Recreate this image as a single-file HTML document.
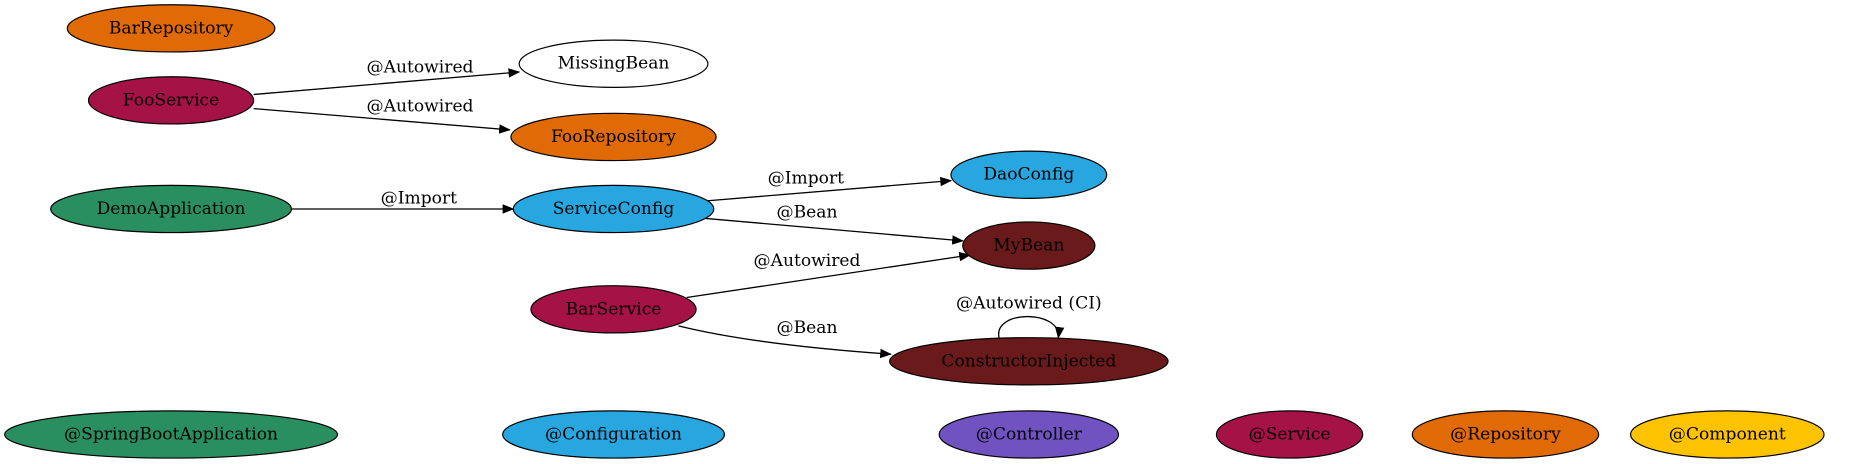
<!DOCTYPE html>
<html><head><meta charset="utf-8"><style>
html,body{margin:0;padding:0;background:#fff;}
svg{display:block;}
text{font-family:"DejaVu Serif","Liberation Serif",serif;font-size:14.5px;text-anchor:middle;dominant-baseline:central;fill:#000;}
</style></head><body>
<svg width="1850" height="464" viewBox="0 0 1568 393" preserveAspectRatio="none" xmlns="http://www.w3.org/2000/svg">
<defs><marker id="a" markerWidth="10" markerHeight="8" refX="9" refY="4" orient="auto" markerUnits="userSpaceOnUse"><path d="M0,0 L10,4 L0,8 z" fill="#000"/></marker></defs>
<g stroke="#000" stroke-width="1.1" fill="none">
<path d="M215,80 L440,61" marker-end="url(#a)"/>
<path d="M215,92 L432,110" marker-end="url(#a)"/>
<path d="M247,177 L435,177" marker-end="url(#a)"/>
<path d="M600,170 L806,153" marker-end="url(#a)"/>
<path d="M598,185 L816,204" marker-end="url(#a)"/>
<path d="M582,252 L822,216" marker-end="url(#a)"/>
<path d="M575,276 Q640,292 755,300" marker-end="url(#a)"/>
<path d="M847,287 C840,262 900,262 897,286" marker-end="url(#a)"/>
</g>
<g stroke="#000" stroke-width="1">
<ellipse cx="145" cy="24" rx="88" ry="20" fill="#e06a06"/>
<ellipse cx="145" cy="85" rx="70" ry="20" fill="#a51245"/>
<ellipse cx="145" cy="177" rx="102" ry="20" fill="#2a8f60"/>
<ellipse cx="520" cy="54" rx="80" ry="20" fill="#fff"/>
<ellipse cx="520" cy="116" rx="87" ry="20" fill="#e06a06"/>
<ellipse cx="520" cy="177" rx="85" ry="20" fill="#27a6df"/>
<ellipse cx="520" cy="262" rx="70" ry="20" fill="#a51245"/>
<ellipse cx="872" cy="148" rx="66" ry="20" fill="#27a6df"/>
<ellipse cx="872" cy="208" rx="56" ry="20" fill="#6a1a1a"/>
<ellipse cx="872" cy="306" rx="118" ry="20" fill="#6a1a1a"/>
<ellipse cx="145" cy="368" rx="141" ry="20" fill="#2a8f60"/>
<ellipse cx="520" cy="368" rx="94" ry="20" fill="#27a6df"/>
<ellipse cx="872" cy="368" rx="76" ry="20" fill="#7052c0"/>
<ellipse cx="1093" cy="368" rx="62" ry="20" fill="#a51245"/>
<ellipse cx="1276" cy="368" rx="79" ry="20" fill="#e06a06"/>
<ellipse cx="1464" cy="368" rx="82" ry="20" fill="#fdc300"/>
</g>
<text x="145" y="24">BarRepository</text>
<text x="145" y="85">FooService</text>
<text x="145" y="177">DemoApplication</text>
<text x="520" y="54">MissingBean</text>
<text x="520" y="116">FooRepository</text>
<text x="520" y="177">ServiceConfig</text>
<text x="520" y="262">BarService</text>
<text x="872" y="148">DaoConfig</text>
<text x="872" y="208">MyBean</text>
<text x="872" y="306">ConstructorInjected</text>
<text x="145" y="368">@SpringBootApplication</text>
<text x="520" y="368">@Configuration</text>
<text x="872" y="368">@Controller</text>
<text x="1093" y="368">@Service</text>
<text x="1276" y="368">@Repository</text>
<text x="1464" y="368">@Component</text>
<text x="356" y="57">@Autowired</text>
<text x="356" y="90">@Autowired</text>
<text x="355" y="168">@Import</text>
<text x="683" y="151">@Import</text>
<text x="684" y="180">@Bean</text>
<text x="684" y="221">@Autowired</text>
<text x="684" y="278">@Bean</text>
<text x="872" y="257">@Autowired (CI)</text>
</svg>
</body></html>
